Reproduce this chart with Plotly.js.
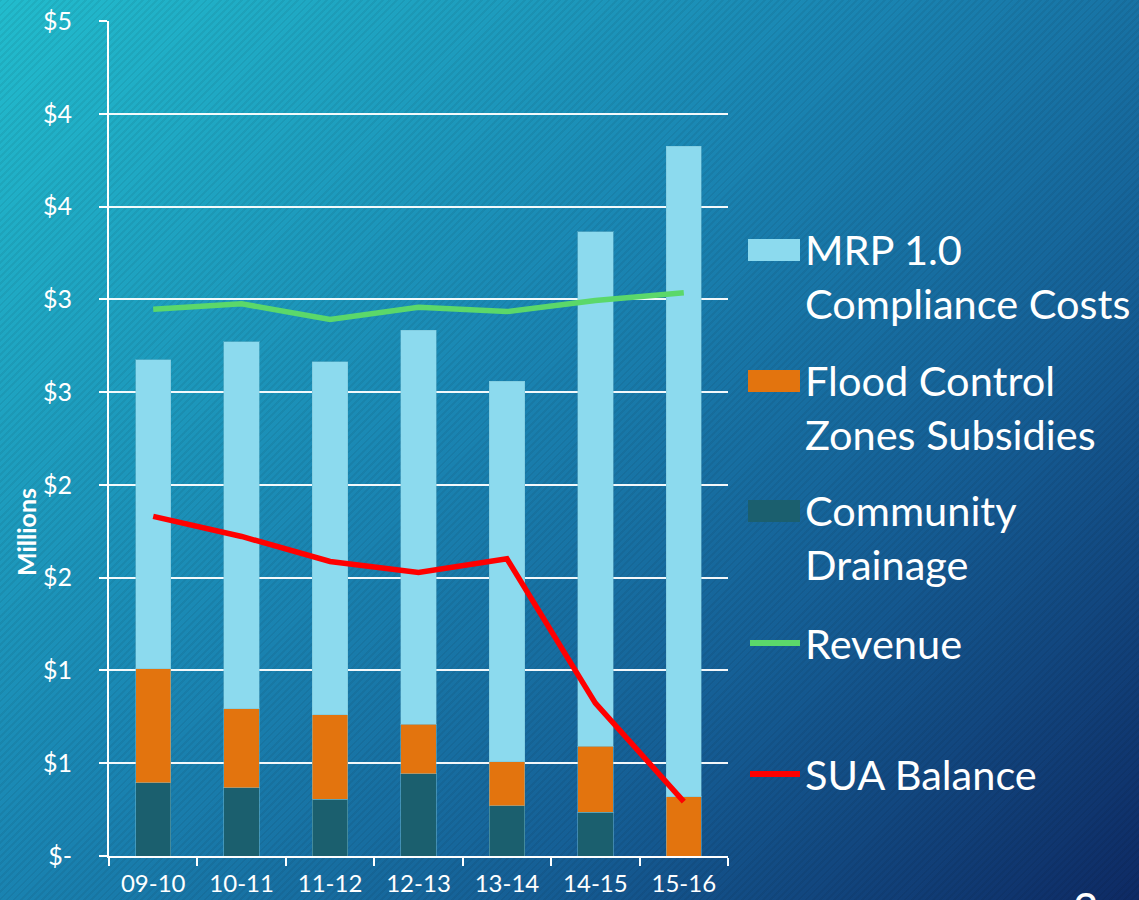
<!DOCTYPE html>
<html>
<head>
<meta charset="utf-8">
<script src="https://cdn.plot.ly/plotly-3.0.1.min.js"></script>
<style>
  html, body { margin: 0; padding: 0; }
  body {
    width: 1139px;
    height: 900px;
    overflow: hidden;
    background:
      repeating-linear-gradient(135deg, rgba(0,0,0,0.06) 0px, rgba(0,0,0,0.06) 2px, rgba(0,0,0,0) 2px, rgba(0,0,0,0) 5px),
      linear-gradient(135deg, #22bccd 0%, #1a86b3 42%, #155e95 70%, #0e2a64 100%);
  }
  #chart { width: 1139px; height: 900px; }
</style>
</head>
<body>
<div id="chart"></div>
<script>
// ==================================================
// Data (millions)
// ==================================================

const categories = ["09-10", "10-11", "11-12", "12-13", "13-14", "14-15", "15-16"];

const communityDrainage = [0.395, 0.368, 0.307, 0.442, 0.271, 0.237, 0];
const floodControl = [0.614, 0.426, 0.454, 0.268, 0.238, 0.355, 0.320];
const mrpCompliance = [1.666, 1.977, 1.902, 2.123, 2.049, 2.772, 3.504];
const revenue = [2.947, 2.976, 2.891, 2.957, 2.934, 2.994, 3.035];
const suaBalance = [1.830, 1.722, 1.587, 1.528, 1.602, 0.824, 0.293];

const yTickVals = [0, 0.5, 1, 1.5, 2, 2.5, 3, 3.5, 4, 4.5];
const yTickLabels = ["$-", "$1", "$1", "$2", "$2", "$3", "$3", "$4", "$4", "$5"];

const seriesNames = {
  mrp: "MRP 1.0<br>Compliance Costs",
  flood: "Flood Control<br>Zones Subsidies",
  community: "Community<br>Drainage",
  revenue: "Revenue",
  sua: "SUA Balance",
};

const colors = {
  mrp: "#8cdaee",
  flood: "#e3740e",
  community: "#1b5f6e",
  revenue: "#5bd86a",
  sua: "#ff0000",
};

// ==================================================
// Plot area and pixel helpers (for the hand-made legend)
// ==================================================

const PLOT = { l: 109, r: 728, t: 21, b: 856 };
const W = 1139, H = 900;
const px = x => (x - PLOT.l) / (PLOT.r - PLOT.l);
const py = y => (PLOT.b - y) / (PLOT.b - PLOT.t);

// ==================================================
// Traces
// ==================================================

function barTrace(key, values) {
  return {
    type: "bar",
    x: categories,
    y: values,
    name: seriesNames[key],
    marker: { color: colors[key], line: { color: "rgba(120,190,210,0.45)", width: 1 } },
    width: 0.4,
  };
}

function lineTrace(key, values) {
  return {
    type: "scatter",
    mode: "lines",
    x: categories,
    y: values,
    name: seriesNames[key],
    line: { color: colors[key], width: 5.5 },
  };
}

const traces = [
  barTrace("community", communityDrainage),
  barTrace("flood", floodControl),
  barTrace("mrp", mrpCompliance),
  lineTrace("revenue", revenue),
  lineTrace("sua", suaBalance),
];

// ==================================================
// Legend (drawn by hand to match the large slide legend)
// ==================================================

const legendItems = [
  { key: "mrp", kind: "box", y: 250, textY: 276 },
  { key: "flood", kind: "box", y: 381, textY: 407 },
  { key: "community", kind: "box", y: 511, textY: 537 },
  { key: "revenue", kind: "line", y: 643, textY: 643 },
  { key: "sua", kind: "line", y: 774, textY: 774 },
];

const shapes = [];
const annotations = [];

legendItems.forEach(item => {
  if (item.kind === "box") {
    shapes.push({
      type: "rect", xref: "paper", yref: "paper",
      x0: px(748), x1: px(800), y0: py(item.y - 11), y1: py(item.y + 11),
      fillcolor: colors[item.key], line: { width: 0 },
    });
  } else {
    shapes.push({
      type: "line", xref: "paper", yref: "paper",
      x0: px(750), x1: px(800), y0: py(item.y), y1: py(item.y),
      line: { color: colors[item.key], width: 6 },
    });
  }
  annotations.push({
    xref: "paper", yref: "paper",
    x: px(803), y: py(item.textY),
    xanchor: "left", yanchor: "middle", align: "left",
    showarrow: false,
    text: seriesNames[item.key],
    font: { family: "Lato, 'Open Sans', sans-serif", size: 41.5, color: "#ffffff" },
  });
});

annotations.push({
  xref: "paper", yref: "paper",
  x: px(26), y: py(532),
  xanchor: "center", yanchor: "middle",
  textangle: -90, showarrow: false,
  text: "<b>Millions</b>",
  font: { family: "Lato, 'Open Sans', sans-serif", size: 25, color: "#ffffff" },
});

annotations.push({
  xref: "paper", yref: "paper",
  x: px(1086), y: py(880),
  xanchor: "center", yanchor: "top",
  showarrow: false,
  text: "2",
  font: { family: "Lato, 'Open Sans', sans-serif", size: 44, color: "#ffffff" },
});

// ==================================================
// Layout
// ==================================================

const layout = {
  width: W,
  height: H,
  margin: { l: PLOT.l, r: W - PLOT.r, t: PLOT.t, b: H - PLOT.b, pad: 0 },
  paper_bgcolor: "rgba(0,0,0,0)",
  plot_bgcolor: "rgba(0,0,0,0)",
  barmode: "stack",
  showlegend: false,
  font: { family: "Lato, 'Open Sans', sans-serif", color: "#ffffff" },
  xaxis: {
    type: "category",
    range: [-0.5, categories.length - 0.5],
    showgrid: false,
    showline: true, linecolor: "#ffffff", linewidth: 2,
    ticks: "outside", tickson: "boundaries", ticklen: 8, tickwidth: 2, tickcolor: "#ffffff",
    tickfont: { size: 24, color: "#ffffff" },
    ticklabelstandoff: 5,
    automargin: false,
    fixedrange: true,
  },
  yaxis: {
    range: [0, 4.5],
    tickvals: yTickVals,
    ticktext: yTickLabels,
    showgrid: true, gridcolor: "rgba(255,255,255,0.95)", gridwidth: 2,
    zeroline: false,
    showline: true, linecolor: "#ffffff", linewidth: 2,
    ticks: "outside", ticklen: 8, tickwidth: 2, tickcolor: "#ffffff",
    tickfont: { size: 25, color: "#ffffff" },
    ticklabelstandoff: 22,
    automargin: false,
    fixedrange: true,
  },
  shapes: shapes,
  annotations: annotations,
};

Plotly.newPlot("chart", traces, layout, { displayModeBar: false, staticPlot: true });
</script>
</body>
</html>
